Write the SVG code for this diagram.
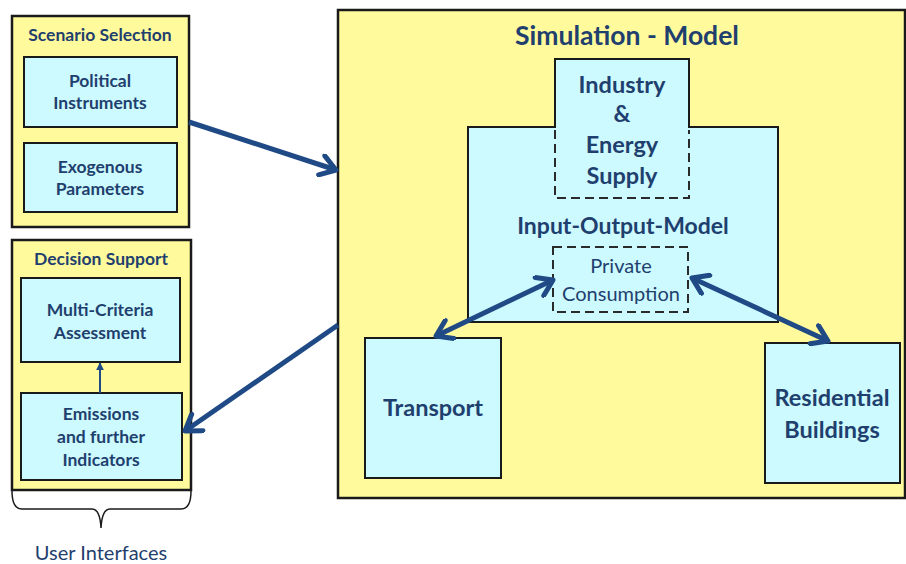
<svg xmlns="http://www.w3.org/2000/svg" width="906" height="564" viewBox="0 0 906 564">
<defs>
<style>
.outer{fill:#FFFB9C;stroke:#1a1a1a;stroke-width:2.5}
.box{fill:#CCFAFF;stroke:#1a1a1a;stroke-width:2}
.dash{fill:none;stroke:#2a2a2a;stroke-width:2;stroke-dasharray:9,5}
.t{font-family:Lato,"Open Sans","Liberation Sans",sans-serif;font-weight:bold;fill:#1F3F6E;text-anchor:middle}
.r{font-family:Lato,"Open Sans","Liberation Sans",sans-serif;fill:#1F3F6E;text-anchor:middle}
.s{font-size:17.5px}
.m{font-size:23.5px}
.conn{stroke:#1F4A85;stroke-width:5;fill:none}
</style>
<marker id="ah" viewBox="0 0 24 24" refX="20" refY="12" markerWidth="24" markerHeight="24" markerUnits="userSpaceOnUse" orient="auto-start-reverse">
<path d="M5,2 L20,12 L5,22" fill="none" stroke="#1F4A85" stroke-width="5" stroke-linecap="round" stroke-linejoin="round"/>
</marker>
<marker id="sm" viewBox="0 0 10 10" refX="9" refY="5" markerWidth="8" markerHeight="8" markerUnits="userSpaceOnUse" orient="auto">
<path d="M0,0 L10,5 L0,10 Z" fill="#1F4A85"/>
</marker>
</defs>
<rect width="906" height="564" fill="#ffffff"/>

<g id="scenario-selection">
<rect class="outer" x="12" y="16" width="177" height="211"/>
<text class="t s" x="100" y="41">Scenario Selection</text>
</g>
<g id="political-instruments">
<rect class="box" x="24" y="57" width="153" height="70"/>
<text class="t s" x="100" y="87">Political</text>
<text class="t s" x="100" y="109">Instruments</text>
</g>
<g id="exogenous-parameters">
<rect class="box" x="24" y="143" width="153" height="69"/>
<text class="t s" x="100" y="173">Exogenous</text>
<text class="t s" x="100" y="195">Parameters</text>
</g>

<g id="decision-support">
<rect class="outer" x="12" y="240" width="179" height="250"/>
<text class="t s" x="101" y="265">Decision Support</text>
</g>
<g id="multi-criteria">
<rect class="box" x="21" y="278" width="159" height="84"/>
<text class="t s" x="100" y="316">Multi-Criteria</text>
<text class="t s" x="100" y="339">Assessment</text>
</g>
<g id="emissions">
<rect class="box" x="21" y="393" width="161" height="87"/>
<text class="t s" x="101" y="420">Emissions</text>
<text class="t s" x="101" y="443">and further</text>
<text class="t s" x="101" y="466">Indicators</text>
</g>

<g id="user-interfaces">
<path d="M12,491 Q12,509 22,509 L92,509 Q100,509 101,528 Q102,509 110,509 L181,509 Q191,509 191,491" fill="none" stroke="#1a1a1a" stroke-width="1.5"/>
<text class="r" x="101" y="560" font-size="20">User Interfaces</text>
</g>

<g id="simulation-model">
<rect class="outer" x="338" y="10" width="567" height="488"/>
<text class="t" x="627" y="45" font-size="26.5">Simulation - Model</text>
</g>
<g id="input-output-model">
<rect class="box" x="468" y="127" width="310" height="195"/>
<text class="t" x="623" y="234" font-size="23">Input-Output-Model</text>
</g>
<g id="industry-energy-supply">
<path d="M555,127 L555,59 L689,59 L689,127" fill="#CCFAFF" stroke="#1a1a1a" stroke-width="2"/>
<rect x="556" y="126" width="132" height="4" fill="#CCFAFF"/>
<path class="dash" d="M555,130 L555,198 L689,198 L689,130"/>
<text class="t m" x="622" y="93">Industry</text>
<text class="t m" x="622" y="122">&amp;</text>
<text class="t m" x="622" y="153">Energy</text>
<text class="t m" x="622" y="184">Supply</text>
</g>
<g id="private-consumption">
<rect class="dash" x="553" y="247" width="135" height="65"/>
<text class="r" x="621" y="273" font-size="20">Private</text>
<text class="r" x="621" y="301" font-size="20">Consumption</text>
</g>
<g id="transport">
<rect class="box" x="365" y="338" width="136" height="140"/>
<text class="t m" x="433" y="416">Transport</text>
</g>
<g id="residential-buildings">
<rect class="box" x="765" y="343" width="135" height="140"/>
<text class="t m" x="832" y="406">Residential</text>
<text class="t m" x="832" y="438">Buildings</text>
</g>

<g id="connectors">
<line class="conn" x1="189" y1="122" x2="336" y2="170" marker-end="url(#ah)"/>
<line class="conn" x1="338" y1="325" x2="185" y2="431" marker-end="url(#ah)"/>
<line class="conn" x1="553" y1="280" x2="436" y2="336" marker-start="url(#ah)" marker-end="url(#ah)"/>
<line class="conn" x1="692" y1="278" x2="828" y2="341" marker-start="url(#ah)" marker-end="url(#ah)"/>
<line x1="100" y1="393" x2="100" y2="363" stroke="#1F4A85" stroke-width="2" marker-end="url(#sm)"/>
</g>
</svg>
